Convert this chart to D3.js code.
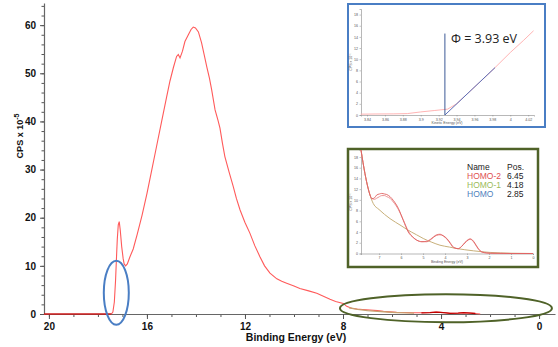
<!DOCTYPE html>
<html>
<head>
<meta charset="utf-8">
<script src="https://cdn.jsdelivr.net/npm/d3@7"></script>
<style>
  body { margin: 0; background: #fff; }
  text { font-family: "Liberation Sans", Arial, sans-serif; }
</style>
</head>
<body>
<div id="chart"></div>
<script>
const width = 558, height = 347;

// Main UPS spectrum (binding energy in eV, CPS x 10^-5)
const energy = [20.2, 17.45, 17.39, 17.33, 17.28, 17.24, 17.21, 17.17, 17.13, 17.09, 17.03, 16.97, 16.93, 16.87, 16.8, 16.7, 16.56, 16.4, 16.2, 16.0, 15.8, 15.6, 15.4, 15.2, 15.06, 14.92, 14.79, 14.72, 14.65, 14.55, 14.45, 14.3, 14.2, 14.11, 14.02, 13.9, 13.77, 13.65, 13.56, 13.45, 13.36, 13.22, 13.1, 13.02, 12.92, 12.82, 12.65, 12.48, 12.35, 12.2, 12.0, 11.8, 11.6, 11.39, 11.2, 10.98, 10.7, 10.5, 10.3, 10.0, 9.76, 9.4, 9.07, 8.8, 8.53, 8.3, 7.99, 7.85, 7.65, 7.44, 7.2, 6.9, 6.6, 6.35, 6.1, 5.81, 5.5, 5.13, 4.8, 4.45, 4.2, 4.04, 3.8, 3.63, 3.3, 3.08, 2.8, 2.6, 2.4];
const cps = [0, 0, 0.4, 2.5, 7, 12, 15.5, 18.5, 19.2, 17.5, 14, 11.5, 10.4, 10, 10.4, 11.8, 13.5, 16.5, 20.5, 25, 30, 35, 40, 45, 48.4, 51.2, 53.5, 53.9, 53.2, 54.6, 56.6, 58.1, 59.1, 59.6, 59.4, 58.6, 56.3, 53.5, 51.4, 49, 46.6, 42.4, 40.2, 38.6, 35.5, 32.7, 29.5, 26.5, 24, 21.6, 19, 16.8, 14.2, 11.9, 10, 8.5, 7.3, 6.8, 6.4, 5.8, 5.3, 4.8, 4.3, 3.7, 3.05, 2.6, 2.2, 1.6, 1.2, 1.04, 0.95, 0.83, 0.7, 0.56, 0.45, 0.35, 0.3, 0.27, 0.25, 0.3, 0.4, 0.35, 0.25, 0.15, 0.2, 0.27, 0.2, 0.1, 0];
// background overlay near the valence band
const bgEnergy = [7.75, 7.4, 7.0, 6.6, 6.2, 5.8, 5.4, 5.1];
const bgCps = [1.3, 0.95, 0.7, 0.55, 0.42, 0.3, 0.22, 0.18];
const xTicks = [20, 16, 12, 8, 4, 0];
const yTicks = [0, 10, 20, 30, 40, 50, 60];

// Inset 1: secondary electron cutoff (kinetic energy)
const keEnergy = [3.833, 3.85, 3.87, 3.885, 3.9, 3.915, 3.93, 3.94, 3.95, 3.97, 3.983, 4.0, 4.015, 4.026];
const keCps = [0.15, 0.18, 0.2, 0.25, 0.55, 0.8, 1.05, 2.0, 3.5, 6.5, 8.5, 11.2, 13.4, 15.1];
const fitKe = [3.927, 3.983];
const fitCps = [0, 8.5];
const workFunction = 3.93;
const keTicks = [3.84, 3.86, 3.88, 3.9, 3.92, 3.94, 3.96, 3.98, 4, 4.02];

// Inset 2: valence band fit
const vbEnergy = [7.82, 7.64, 7.5, 7.41, 7.33, 7.2, 7.11, 6.98, 6.88, 6.75, 6.65, 6.5, 6.35, 6.12, 5.9, 5.67, 5.45, 5.29, 5.05, 4.83, 4.65, 4.53, 4.38, 4.23, 4.08, 3.92, 3.75, 3.62, 3.4, 3.25, 3.09, 2.95, 2.86, 2.75, 2.64, 2.5, 2.33, 2.1, 1.95, 1.0, 0];
const vbCps = [19.3, 14.9, 12.2, 10.9, 10.2, 10.4, 10.9, 11.1, 11.2, 11.1, 11.0, 10.6, 9.9, 8.4, 6.2, 4.0, 3.0, 2.5, 2.2, 2.2, 2.6, 3.0, 3.4, 3.5, 3.3, 2.8, 1.9, 1.2, 0.9, 1.3, 2.0, 2.5, 2.7, 2.5, 1.9, 1.0, 0.3, 0.1, 0.05, 0, 0];
const envCps = [19.3, 14.9, 12.2, 10.9, 10.3, 10.1, 10.3, 10.6, 10.8, 10.8, 10.6, 10.3, 9.6, 8.2, 6.3, 4.2, 3.0, 2.5, 2.2, 2.3, 2.7, 3.1, 3.5, 3.6, 3.3, 2.7, 1.8, 1.1, 0.9, 1.3, 2.1, 2.6, 2.7, 2.4, 1.8, 0.9, 0.3, 0.1, 0.05, 0, 0];
const bgVbEnergy = [7.82, 7.64, 7.41, 7.26, 7.0, 6.5, 6.0, 5.74, 5.3, 4.99, 4.6, 4.23, 3.8, 3.47, 3.1, 2.71, 2.3, 1.95, 1.0, 0];
const bgVbCps = [19.3, 14.9, 10.9, 9.3, 8.2, 6.5, 5.2, 4.5, 3.5, 2.8, 2.1, 1.55, 1.2, 0.93, 0.7, 0.5, 0.32, 0.2, 0.05, 0];
const vbTicks = [7, 6, 5, 4, 3, 2, 1, 0];
const legendNames = ["HOMO-2", "HOMO-1", "HOMO"];
const legendPos = ["6.45", "4.18", "2.85"];
const legendColors = ["#e0504f", "#9bbb59", "#4f81bd"];

const svg = d3.select("#chart")
    .append("svg")
    .attr("width", width)
    .attr("height", height)
    .attr("viewBox", [0, 0, width, height]);

// ---- main chart ----
const x = d3.scaleLinear().domain([20.2, -0.65]).range([44, 555]);
const y = d3.scaleLinear().domain([0, 64.6]).range([314, 3]);

const line = d3.line().x(d => x(d[0])).y(d => y(d[1]));

// minor ticks
svg.append("g")
    .attr("transform", "translate(0,314)")
    .call(d3.axisBottom(x).tickValues(d3.range(0, 21)).tickSize(3).tickFormat(""))
    .call(g => g.select(".domain").remove())
    .selectAll("line").attr("stroke", "#555");
svg.append("g")
    .attr("transform", "translate(44,0)")
    .call(d3.axisLeft(y).tickValues(d3.range(0, 65, 2)).tickSize(2.5).tickFormat(""))
    .call(g => g.select(".domain").remove())
    .selectAll("line").attr("stroke", "#555");

const xAxis = svg.append("g")
    .attr("transform", "translate(0,314)")
    .call(d3.axisBottom(x).tickValues(xTicks).tickSize(5).tickPadding(4).tickSizeOuter(0));
const yAxis = svg.append("g")
    .attr("transform", "translate(44,0)")
    .call(d3.axisLeft(y).tickValues(yTicks).tickSize(4).tickPadding(4).tickSizeOuter(0));
[xAxis, yAxis].forEach(a => {
    a.select(".domain").attr("stroke", "#666").attr("stroke-width", 1.2);
    a.selectAll("line").attr("stroke", "#555");
    a.selectAll("text")
        .attr("font-size", 10)
        .attr("font-weight", "bold")
        .attr("fill", "#111")
        .style("font-family", "'Liberation Sans', Arial, sans-serif");
});

svg.append("text")
    .attr("x", 296).attr("y", 341)
    .attr("text-anchor", "middle")
    .attr("font-size", 10.5).attr("font-weight", "bold").attr("fill", "#111")
    .text("Binding Energy (eV)");

const yTitle = svg.append("text")
    .attr("transform", "translate(23,136) rotate(-90)")
    .attr("text-anchor", "middle")
    .attr("font-size", 9).attr("font-weight", "bold").attr("fill", "#111");
yTitle.append("tspan").text("CPS x 10");
yTitle.append("tspan").attr("dy", -4).attr("font-size", 7).text("-5");

const mainData = energy.map((e, i) => [e, cps[i]]);
svg.append("path")
    .attr("fill", "none")
    .attr("stroke", "#ff5a5a")
    .attr("stroke-width", 1.1)
    .attr("d", line(mainData.filter(d => d[0] <= 17.45)));
svg.append("path")
    .attr("fill", "none")
    .attr("stroke", "#cc1a1a")
    .attr("stroke-width", 1.3)
    .attr("d", line(mainData.filter(d => d[0] >= 17.45)));
svg.append("path")
    .attr("fill", "none")
    .attr("stroke", "#c8a070")
    .attr("stroke-width", 1.3)
    .attr("d", line(bgEnergy.map((e, i) => [e, bgCps[i]])));
svg.append("path")
    .attr("fill", "none")
    .attr("stroke", "#c00000")
    .attr("stroke-width", 1.3)
    .attr("d", line(mainData.filter(d => d[0] <= 4.8 && d[0] >= 2.6)));

// highlight ellipses
svg.append("ellipse")
    .attr("cx", x(17.25)).attr("cy", y(4.4))
    .attr("rx", 12.5).attr("ry", 32)
    .attr("fill", "none").attr("stroke", "#4a7ec4").attr("stroke-width", 2);
svg.append("ellipse")
    .attr("cx", x(3.8)).attr("cy", y(1.2))
    .attr("rx", 106).attr("ry", 14)
    .attr("fill", "none").attr("stroke", "#4f6228").attr("stroke-width", 2);

// ---- helper to style tiny inset axes ----
function tinyAxis(g) {
    g.select(".domain").attr("stroke", "#888").attr("stroke-width", 0.6);
    g.selectAll("line").attr("stroke", "#888").attr("stroke-width", 0.5);
    g.selectAll("text").attr("font-size", 3.6).attr("fill", "#555")
        .style("font-family", "'Liberation Sans', Arial, sans-serif");
}

// ---- inset 1: cutoff ----
const in1 = svg.append("g");
in1.append("rect")
    .attr("x", 348).attr("y", 4).attr("width", 197).attr("height", 123)
    .attr("fill", "#fff").attr("stroke", "#4a7ec4").attr("stroke-width", 2);
const x1 = d3.scaleLinear().domain([3.8333, 4.0265]).range([361, 534]);
const y1 = d3.scaleLinear().domain([0, 19]).range([115, 9]);
in1.append("g").attr("transform", "translate(0,115)")
    .call(d3.axisBottom(x1).tickValues(keTicks).tickSize(1.5).tickPadding(1.5).tickFormat(d3.format("")))
    .call(tinyAxis);
in1.append("g").attr("transform", "translate(361,0)")
    .call(d3.axisLeft(y1).tickValues(d3.range(0, 19, 2)).tickSize(1.5).tickPadding(1.5))
    .call(tinyAxis);
in1.append("text").attr("x", 447).attr("y", 124).attr("text-anchor", "middle")
    .attr("font-size", 3.6).attr("fill", "#555").text("Kinetic Energy (eV)");
in1.append("text").attr("transform", "translate(352,62) rotate(-90)").attr("text-anchor", "middle")
    .attr("font-size", 3.6).attr("fill", "#555").text("CPS x 10\u207B\u2075");
const line1 = d3.line().x(d => x1(d[0])).y(d => y1(d[1]));
in1.append("path").attr("fill", "none").attr("stroke", "#ffb4b4").attr("stroke-width", 1)
    .attr("d", line1(keEnergy.map((e, i) => [e, keCps[i]])));
in1.append("path").attr("fill", "none").attr("stroke", "#5b6fb8").attr("stroke-width", 1)
    .attr("d", line1(fitKe.map((e, i) => [e, fitCps[i]])));
in1.append("line")
    .attr("x1", x1(fitKe[0])).attr("x2", x1(fitKe[0]))
    .attr("y1", y1(0)).attr("y2", y1(14.6))
    .attr("stroke", "#3c5a96").attr("stroke-width", 1);
in1.append("text")
    .attr("x", 451).attr("y", 43)
    .attr("font-size", 12.5).attr("fill", "#222")
    .style("font-family", "'Open Sans', 'Liberation Sans', sans-serif")
    .text(`\u03A6 = ${workFunction} eV`);

// ---- inset 2: valence band ----
const in2 = svg.append("g");
in2.append("rect")
    .attr("x", 348).attr("y", 149).attr("width", 190).attr("height", 118)
    .attr("fill", "#fff").attr("stroke", "#4f6228").attr("stroke-width", 2.5);
const x2 = d3.scaleLinear().domain([7.82, 0]).range([361, 533]);
const y2 = d3.scaleLinear().domain([0, 19.3]).range([253.5, 150]);
in2.append("g").attr("transform", "translate(0,253.5)")
    .call(d3.axisBottom(x2).tickValues(vbTicks).tickSize(1.5).tickPadding(1.5))
    .call(tinyAxis);
in2.append("g").attr("transform", "translate(361,0)")
    .call(d3.axisLeft(y2).tickValues(d3.range(0, 19, 2)).tickSize(1.5).tickPadding(1.5))
    .call(tinyAxis);
in2.append("text").attr("x", 447).attr("y", 263).attr("text-anchor", "middle")
    .attr("font-size", 3.6).attr("fill", "#555").text("Binding Energy (eV)");
in2.append("text").attr("transform", "translate(352,202) rotate(-90)").attr("text-anchor", "middle")
    .attr("font-size", 3.6).attr("fill", "#555").text("CPS x 10\u207B\u2075");
const line2 = d3.line().x(d => x2(d[0])).y(d => y2(d[1])).curve(d3.curveMonotoneX);
in2.append("path").attr("fill", "none").attr("stroke", "#c8b07a").attr("stroke-width", 1)
    .attr("d", line2(bgVbEnergy.map((e, i) => [e, bgVbCps[i]])));
in2.append("path").attr("fill", "none").attr("stroke", "#ea8a8a").attr("stroke-width", 0.9)
    .attr("d", line2(vbEnergy.map((e, i) => [e, envCps[i]])));
in2.append("path").attr("fill", "none").attr("stroke", "#e06060").attr("stroke-width", 0.9)
    .attr("d", line2(vbEnergy.map((e, i) => [e, vbCps[i]])));

const legend = in2.append("g").attr("font-size", 8.5);
legend.append("text").attr("x", 467).attr("y", 170).attr("fill", "#222").text("Name");
legend.append("text").attr("x", 507).attr("y", 170).attr("fill", "#222").text("Pos.");
legendNames.forEach((n, i) => {
    legend.append("text").attr("x", 467).attr("y", 179 + i * 8.8).attr("fill", legendColors[i]).text(n);
    legend.append("text").attr("x", 507).attr("y", 179 + i * 8.8).attr("fill", "#222").text(legendPos[i]);
});
</script>
</body>
</html>
